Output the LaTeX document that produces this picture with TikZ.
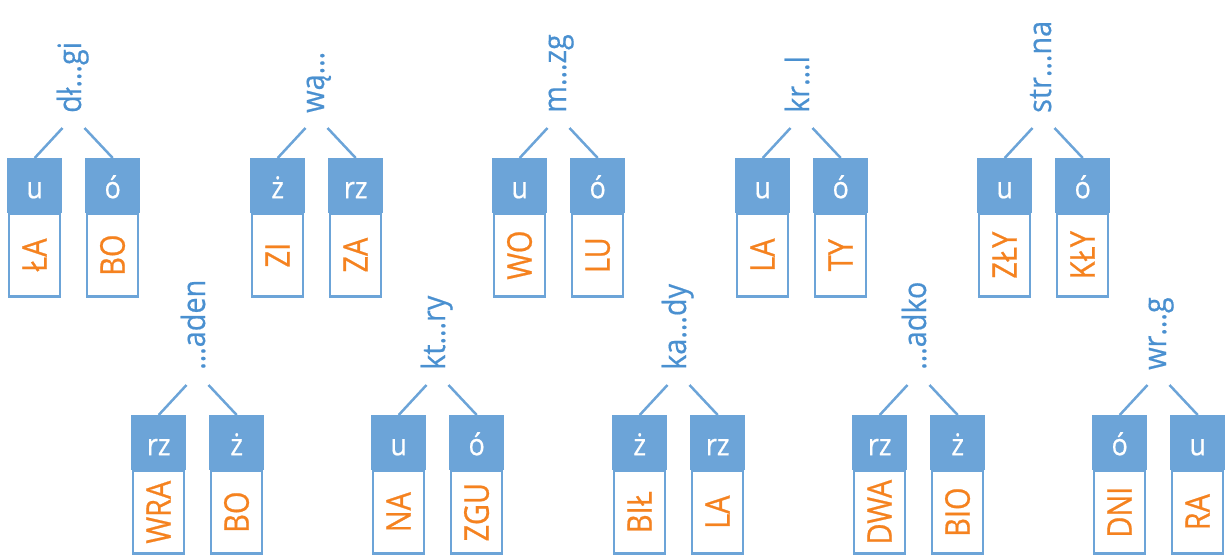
\documentclass[tikz,border=0pt]{standalone}
\usepackage{fontspec}
\setmainfont{Open Sans}
\newfontfamily\wordfont[FakeStretch=0.85,FakeBold=0.6]{Open Sans}
\newfontfamily\labfont[FakeStretch=0.9,FakeBold=0.5]{Open Sans}
\usepackage{tikz}
\usetikzlibrary{positioning,calc}

\definecolor{boxblue}{HTML}{6CA4D8}
\definecolor{labblue}{HTML}{4A90D0}
\definecolor{wordorange}{HTML}{F5821F}

\tikzset{
    hdr/.style={fill=boxblue,text=white,minimum width=55pt,minimum height=55pt,
                inner sep=0pt,font=\labfont\fontsize{30}{34}\selectfont,text height=25pt,text depth=0pt},
    bx/.style={draw=boxblue,line width=2.5pt,fill=white,minimum width=51pt,minimum height=83pt,inner sep=0pt},
    wrd/.style={rotate=90,text=wordorange,inner sep=0pt,font=\wordfont\fontsize{34}{38}\selectfont,
                text height=24pt,text depth=0pt},
    lab/.style={rotate=90,text=labblue,inner sep=0pt,font=\labfont\fontsize{32}{38}\selectfont,
                text height=23pt,text depth=8pt},
    conn/.style={draw=boxblue,line width=2.5pt}
}

\begin{document}
\begin{tikzpicture}[x=1pt,y=-1pt]
    \useasboundingbox (0,0) rectangle (1225,554);

    \foreach \i/\x/\y/\lab/\ha/\ta/\hb/\tb in {
        1/7/158/dł…gi/u/ŁA/ó/BO,
        2/250/158/wą…/ż/ZI/rz/ZA,
        3/492/158/m…zg/u/WO/ó/LU,
        4/735/158/kr…l/u/LA/ó/TY,
        5/977/158/str…na/u/ZŁY/ó/KŁY,
        6/131/415/…aden/rz/WRA/ż/BO,
        7/371/415/kt…ry/u/NA/ó/ZGU,
        8/612/415/ka…dy/ż/BIŁ/rz/LA,
        9/852/415/…adko/rz/DWA/ż/BIO,
        10/1092/415/wr…g/ó/DNI/u/RA}
    {
        % two letter boxes
        \node[hdr,anchor=north west] (hda\i) at (\x,\y) {\ha};
        \node[hdr,anchor=north west] (hdb\i) at (\x+78,\y) {\hb};
        \node[bx,anchor=north] (bxa\i) at ([yshift=1pt]hda\i.south) {};
        \node[bx,anchor=north] (bxb\i) at ([yshift=1pt]hdb\i.south) {};
        \node[wrd] (txa\i) at (bxa\i.center) {\ta};
        \node[wrd] (txb\i) at (bxb\i.center) {\tb};

        % word with the gap
        \node[lab,anchor=west] (lab\i) at (\x+66.5,\y-45) {\lab};
        \coordinate (root\i) at ([yshift=-15pt]lab\i.west);

        \draw[conn] ([xshift=-11pt]root\i) -- (hda\i.north);
        \draw[conn] ([xshift=11pt]root\i) -- (hdb\i.north);
    }
\end{tikzpicture}
\end{document}
